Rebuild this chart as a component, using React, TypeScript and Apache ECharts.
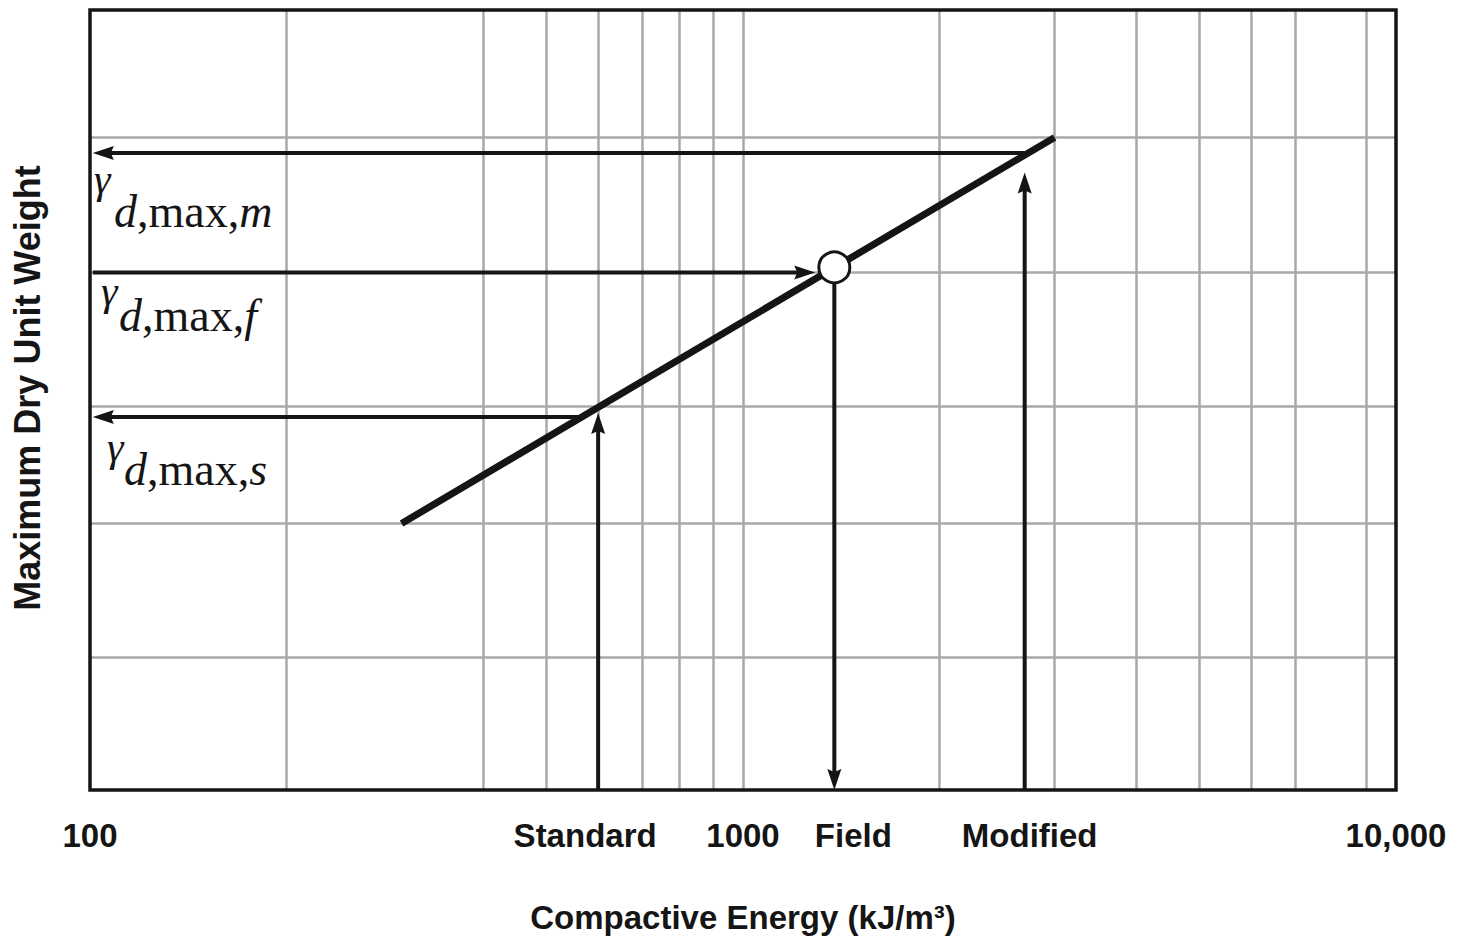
import { useEffect, useRef } from 'react';
import * as echarts from 'echarts';

// ---- data ----
const xTickValues = [100, 1000, 10000];
const xTickLabels = ['100', '1000', '10,000'];
// vertical grid lines visible in the reference (300 and 8000 are absent there)
const xGridValues = [200, 400, 500, 600, 700, 800, 900, 1000, 2000, 3000, 4000, 5000, 6000, 7000, 9000];
// horizontal grid lines (unitless dry unit weight scale 0..6)
const yGridValues = [1.02, 2.05, 2.95, 3.98, 5.02];
// compaction line: energy (kJ/m3) vs max dry unit weight
const lineEnergy = [300, 3000];
const lineWeight = [2.05, 5.02];
// named compaction energies on the x axis
const energyNames = ['Standard', 'Field', 'Modified'];
const energyValues = [600, 1380, 2700];
// field point (circle)
const fieldPoint = [1380, 4.02];
// arrows: [xStart, yStart, xEnd, yEnd]
const arrowStartX = [2700, 2700, 101, 1380, 566, 600];
const arrowStartY = [4.9, 0, 3.98, 3.9, 2.87, 0];
const arrowEndX = [101, 2700, 1290, 1380, 101, 600];
const arrowEndY = [4.9, 4.75, 3.98, 0, 2.87, 2.9];
const gammaSubscripts = ['m', 'f', 's'];

// ---- layout / style ----
const W = 1465;
const H = 942;
const GRID = { left: 90, top: 10, right: 69, bottom: 152 };
const INK = '#151515';
const GRID_COLOR = '#a8a8a8';
const SANS = "'Liberation Sans', Arial, Helvetica, sans-serif";
const SERIF = "'Liberation Serif', 'Times New Roman', Times, serif";
const energyLabelOffsets = [-13, 19, 5];
const gammaLayout = [
  { gx: 94, gy: 179, mx: 114, my: 211 },
  { gx: 101, gy: 291, mx: 119, my: 315 },
  { gx: 107, gy: 447, mx: 124, my: 469 },
];

export default function App() {
  const ref = useRef<HTMLDivElement>(null);

  useEffect(() => {
    if (!ref.current) return;
    const chart = echarts.init(ref.current, undefined, { renderer: 'svg' });

    const arrowData = arrowStartX.map((x, i) => [x, arrowStartY[i], arrowEndX[i], arrowEndY[i]]);

    const gammaGraphics = gammaSubscripts.map((sub, i) => {
      const p = gammaLayout[i];
      return {
        type: 'group',
        z: 50,
        children: [
          {
            type: 'text',
            x: p.gx,
            y: p.gy,
            style: {
              text: 'γ',
              fontFamily: SERIF,
              fontStyle: 'italic',
              fontSize: 42,
              fill: INK,
              align: 'left',
              verticalAlign: 'middle',
            },
          },
          {
            type: 'text',
            x: p.mx,
            y: p.my,
            style: {
              text: `{i|d}{n|,max,}{i|${sub}}`,
              fill: INK,
              fontFamily: SERIF,
              fontSize: 46,
              align: 'left',
              verticalAlign: 'middle',
              rich: {
                i: { fontStyle: 'italic', fontSize: 46, fontFamily: SERIF, fill: INK },
                n: { fontSize: 46, fontFamily: SERIF, fill: INK },
              },
            },
          },
        ],
      };
    });

    const option: any = {
      animation: false,
      backgroundColor: '#ffffff',
      grid: { left: GRID.left, top: GRID.top, right: GRID.right, bottom: GRID.bottom, containLabel: false },
      xAxis: {
        type: 'log',
        logBase: 10,
        min: 100,
        max: 10000,
        name: 'Compactive Energy (kJ/m³)',
        nameLocation: 'middle',
        nameGap: 111,
        nameTextStyle: { fontFamily: SANS, fontWeight: 'bold', fontSize: 33, color: INK },
        axisLine: { show: false },
        axisTick: { show: false },
        splitLine: { show: false },
        axisLabel: {
          margin: 29,
          fontFamily: SANS,
          fontWeight: 'bold',
          fontSize: 33,
          color: INK,
          showMinLabel: true,
          showMaxLabel: true,
          formatter: (v: number) => {
            const idx = xTickValues.findIndex((t) => Math.abs(t - v) < 1e-6 * t);
            return idx >= 0 ? xTickLabels[idx] : '';
          },
        },
      },
      yAxis: {
        type: 'value',
        min: 0,
        max: 6,
        name: 'Maximum Dry Unit Weight',
        nameLocation: 'middle',
        nameGap: 45,
        nameTextStyle: { fontFamily: SANS, fontWeight: 'bold', fontSize: 36, color: INK, padding: [0, 0, 0, 24] },
        axisLine: { show: false },
        axisTick: { show: false },
        axisLabel: { show: false },
        splitLine: { show: false },
      },
      series: [
        {
          name: 'Compaction line',
          type: 'line',
          data: lineEnergy.map((e, i) => [e, lineWeight[i]]),
          symbol: 'none',
          z: 3,
          lineStyle: { color: INK, width: 7 },
          markLine: {
            silent: true,
            z: 1,
            symbol: ['none', 'none'],
            label: { show: false },
            emphasis: { disabled: true },
            lineStyle: { color: GRID_COLOR, width: 2.5, type: 'solid' },
            data: [
              ...xGridValues.map((v) => ({ xAxis: v })),
              ...yGridValues.map((v) => ({ yAxis: v })),
            ],
          },
        },
        {
          name: 'Arrows',
          type: 'custom',
          coordinateSystem: 'cartesian2d',
          z: 4,
          silent: true,
          data: arrowData,
          encode: { x: [0, 2], y: [1, 3] },
          renderItem: (_params: any, api: any) => {
            const p1 = api.coord([api.value(0), api.value(1)]);
            const p2 = api.coord([api.value(2), api.value(3)]);
            const dx = p2[0] - p1[0];
            const dy = p2[1] - p1[1];
            const len = Math.hypot(dx, dy) || 1;
            const ux = dx / len;
            const uy = dy / len;
            const L = 21;
            const HW = 7;
            const bx = p2[0] - ux * L;
            const by = p2[1] - uy * L;
            return {
              type: 'group',
              children: [
                {
                  type: 'line',
                  shape: { x1: p1[0], y1: p1[1], x2: bx + ux * 4, y2: by + uy * 4 },
                  style: { stroke: INK, lineWidth: 4 },
                },
                {
                  type: 'polygon',
                  shape: {
                    points: [
                      [p2[0], p2[1]],
                      [bx - uy * HW, by + ux * HW],
                      [bx + ux * 3, by + uy * 3],
                      [bx + uy * HW, by - ux * HW],
                    ],
                  },
                  style: { fill: INK },
                },
              ],
            };
          },
        },
        {
          name: 'Field point',
          type: 'scatter',
          z: 5,
          data: [fieldPoint],
          symbol: 'circle',
          symbolSize: 31,
          itemStyle: { color: '#ffffff', borderColor: INK, borderWidth: 3, opacity: 1 },
        },
        {
          name: 'Energy levels',
          type: 'scatter',
          z: 5,
          clip: false,
          symbolSize: 0,
          itemStyle: { opacity: 1 },
          data: energyNames.map((n, i) => ({
            name: n,
            value: [energyValues[i], 0],
            label: { offset: [energyLabelOffsets[i], 0] },
          })),
          label: {
            show: true,
            position: 'bottom',
            distance: 29,
            formatter: '{b}',
            fontFamily: SANS,
            fontWeight: 'bold',
            fontSize: 33,
            color: INK,
            opacity: 1,
          },
        },
      ],
      graphic: [
        {
          type: 'rect',
          z: 100,
          silent: true,
          shape: {
            x: GRID.left,
            y: GRID.top,
            width: W - GRID.left - GRID.right,
            height: H - GRID.top - GRID.bottom,
          },
          style: { fill: 'none', stroke: INK, lineWidth: 3.5 },
        },
        ...gammaGraphics,
      ],
    };

    chart.setOption(option);
    return () => chart.dispose();
  }, []);

  return (
    <div
      ref={ref}
      style={{ position: 'absolute', left: 0, top: 0, width: W, height: H, background: '#fff' }}
    />
  );
}
